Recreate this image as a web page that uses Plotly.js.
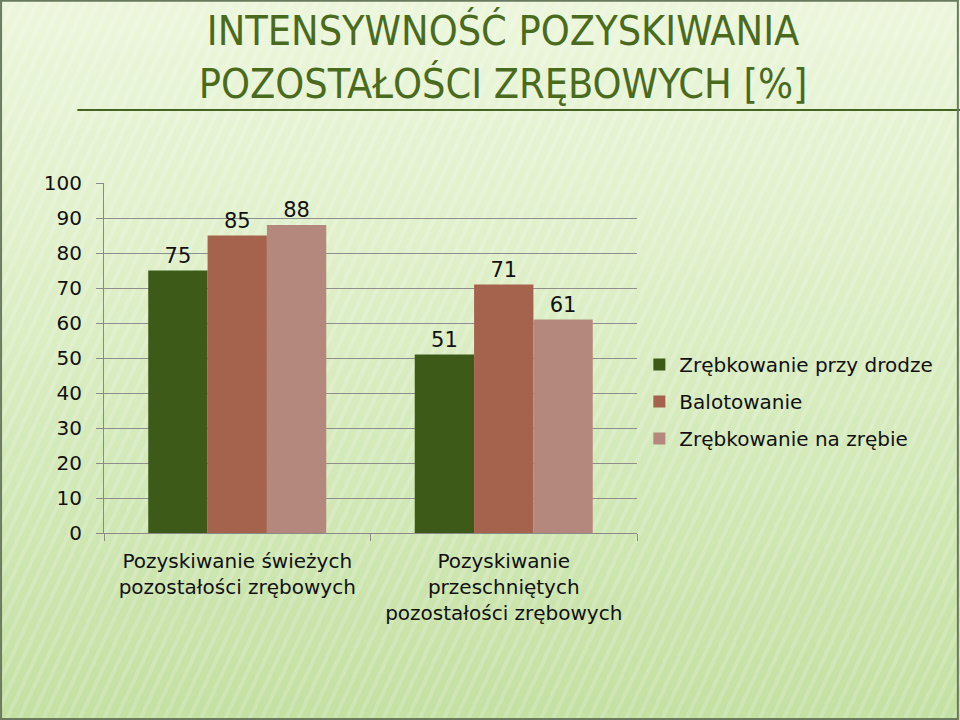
<!DOCTYPE html>
<html>
<head>
<meta charset="utf-8">
<script src="https://cdn.plot.ly/plotly-3.0.1.min.js"></script>
<style>
html, body { margin: 0; padding: 0; }
#wrap {
  width: 960px; height: 720px; position: relative; overflow: hidden;
  background:
    repeating-linear-gradient(115deg, rgba(255,255,255,0.16) 0px, rgba(255,255,255,0.16) 4px, rgba(255,255,255,0) 4px, rgba(255,255,255,0) 11px),
    linear-gradient(to bottom, #ecf6dc 0%, #e2f1cd 30%, #d3e9b9 65%, #c4e0a3 100%);
}
#chart { width: 960px; height: 720px; }
</style>
</head>
<body>
<div id="wrap"><div id="chart"></div></div>
<script>
var categories = [
  "Pozyskiwanie świeżych<br>pozostałości zrębowych",
  "Pozyskiwanie<br>przeschniętych<br>pozostałości zrębowych"
];
var seriesNames = ["Zrębkowanie przy drodze", "Balotowanie", "Zrębkowanie na zrębie"];
var seriesRoadside = [75, 51];
var seriesBaling = [85, 71];
var seriesClearcut = [88, 61];
var yTicks = [0, 10, 20, 30, 40, 50, 60, 70, 80, 90, 100];

var colors = ["#3d5a19", "#a5624d", "#b5887d"];
var values = [seriesRoadside, seriesBaling, seriesClearcut];
var font = "DejaVu Sans, Verdana, sans-serif";

var traces = values.map(function (v, i) {
  return {
    type: "bar",
    name: seriesNames[i],
    x: categories,
    y: v,
    legendgroup: "g" + i,
    marker: { color: colors[i], line: { width: 0 } },
    text: v.map(String),
    textposition: "outside",
    cliponaxis: false,
    textfont: { family: font, size: 21, color: "#111" }
  };
});

var layout = {
  width: 960, height: 720,
  paper_bgcolor: "rgba(0,0,0,0)",
  plot_bgcolor: "rgba(0,0,0,0)",
  margin: { l: 104, r: 323, t: 183, b: 187 },
  barmode: "group",
  bargap: 0.332,
  bargroupgap: 0,
  title: {
    text: "INTENSYWNOŚĆ POZYSKIWANIA<br>POZOSTAŁOŚCI ZRĘBOWYCH [%]",
    font: { family: "DejaVu Sans Condensed, Liberation Sans Narrow, sans-serif", size: 41, color: "#4a6b1d" },
    x: 0.524, xanchor: "center", xref: "container",
    y: 1 - 45 / 720, yanchor: "middle", yref: "container",
    automargin: false
  },
  xaxis: {
    type: "category",
    showgrid: false,
    showline: true, linecolor: "#8a8a8a", linewidth: 1,
    ticks: "outside", tickson: "boundaries", ticklen: 7, tickcolor: "#8a8a8a",
    tickfont: { family: font, size: 20, color: "#111" },
    ticklabelstandoff: 10
  },
  yaxis: {
    range: [0, 100],
    tickvals: yTicks,
    showgrid: true, gridcolor: "#8e8e8e", gridwidth: 1,
    showline: true, linecolor: "#8a8a8a", linewidth: 1,
    ticks: "outside", ticklen: 7, tickcolor: "#8a8a8a",
    tickfont: { family: font, size: 20, color: "#111" },
    ticklabelstandoff: 10,
    zeroline: false
  },
  showlegend: true,
  legend: {
    xref: "container", yref: "container",
    x: 0.666, y: 0.521, xanchor: "left", yanchor: "top",
    bgcolor: "rgba(0,0,0,0)",
    font: { family: font, size: 20, color: "#111" },
    tracegroupgap: 8,
    itemwidth: 30
  },
  shapes: [
    { type: "line", xref: "paper", yref: "paper", x0: -0.05, x1: 1.62, y0: 1 + 73/350, y1: 1 + 73/350,
      line: { color: "#476426", width: 2 } },
    { type: "rect", xref: "paper", yref: "paper",
      x0: -104/533 + 0.002, x1: 1 + 323/533 - 0.004, y0: -187/350 + 0.003, y1: 1 + 183/350 - 0.002,
      line: { color: "#6a7a5e", width: 2 } }
  ]
};

Plotly.newPlot("chart", traces, layout, { displayModeBar: false, staticPlot: true });
</script>
</body>
</html>
